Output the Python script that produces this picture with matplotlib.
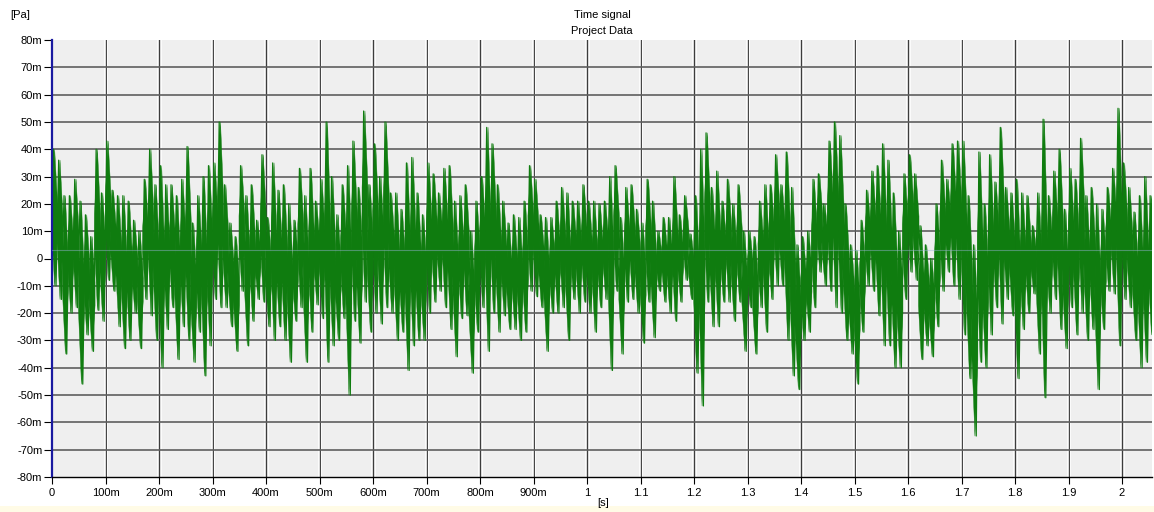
import numpy as np
import matplotlib
matplotlib.use("Agg")
import matplotlib.pyplot as plt
from matplotlib.transforms import offset_copy
from matplotlib.patches import Rectangle
from matplotlib.collections import PolyCollection

plt.rcParams["font.family"] = ["Liberation Sans Narrow", "Liberation Sans", "DejaVu Sans"]

# Pressure signal, one positive and one negative peak per 10 ms block [mPa]
BLOCK = 0.01  # s
peak_hi = [
    40, 36, 23, 23, 29, 21, 16, 8, 40, 24,
    43, 25, 23, 23, 21, 14, 10, 29, 40, 27,
    34, 27, 27, 23, 29, 41, 13, 23, 30, 34,
    35, 50, 27, 13, 8, 34, 23, 27, 14, 38,
    15, 35, 25, 27, 20, 14, 33, 23, 33, 21,
    29, 50, 30, 16, 27, 34, 43, 26, 54, 27,
    42, 30, 50, 24, 24, 18, 35, 37, 24, 16,
    35, 31, 24, 33, 34, 21, 23, 27, 10, 21,
    30, 48, 42, 27, 21, 13, 16, 15, 21, 34,
    29, 16, 15, 15, 21, 26, 24, 21, 21, 27,
    21, 21, 20, 21, 30, 34, 15, 26, 27, 18,
    13, 29, 21, 10, 15, 15, 30, 16, 23, 9,
    23, 40, 46, 26, 32, 21, 29, 20, 27, 10,
    10, 8, 21, 27, 27, 38, 27, 39, 26, 5,
    8, 10, 29, 31, 20, 43, 50, 45, 20, 5,
    3, 14, 25, 32, 34, 42, 36, 24, 10, 31,
    38, 31, 12, 5, 0, 20, 36, 29, 42, 43,
    43, 23, 5, 39, 20, 38, 28, 48, 26, 24,
    29, 24, 23, 12, 24, 51, 23, 32, 40, 18,
    33, 29, 44, 23, 26, 20, 18, 26, 33, 55,
    35, 26, 17, 23, 30, 23,
]
peak_lo = [
    -10, -15, -35, -20, -18, -46, -28, -34, -19, -23,
    -8, -12, -25, -33, -30, -20, -33, -15, -21, -30,
    -40, -26, -18, -37, -25, -30, -38, -27, -43, -32,
    -15, -18, -18, -25, -34, -12, -32, -23, -15, -16,
    -25, -30, -25, -30, -38, -23, -18, -38, -27, -17,
    -22, -38, -32, -30, -22, -50, -23, -31, -16, -27,
    -20, -24, -18, -20, -30, -27, -41, -32, -30, -30,
    -20, -16, -12, -18, -26, -36, -22, -21, -42, -27,
    -18, -34, -20, -27, -21, -26, -26, -30, -27, -12,
    -14, -18, -34, -20, -20, -18, -30, -15, -20, -16,
    -20, -27, -18, -15, -41, -12, -35, -16, -15, -20,
    -31, -16, -29, -12, -16, -20, -23, -16, -8, -15,
    -42, -54, -16, -25, -25, -16, -16, -23, -16, -34,
    -18, -35, -18, -27, -15, -10, -10, -30, -43, -48,
    -30, -27, -18, -5, -10, -12, -18, -20, -30, -35,
    -46, -27, -10, -12, -21, -32, -32, -40, -40, -15,
    -5, -8, -37, -32, -36, -25, -12, -5, -10, -15,
    -28, -44, -65, -38, -40, -28, -18, -24, -15, -21,
    -44, -26, -20, -13, -35, -51, -20, -15, -26, -33,
    -18, -28, -20, -30, -26, -48, -26, -12, -13, -32,
    -15, -18, -30, -40, -38, -28,
]

y_ticks = [80, 70, 60, 50, 40, 30, 20, 10, 0, -10, -20, -30, -40, -50, -60, -70, -80]
y_tick_labels = ["80m", "70m", "60m", "50m", "40m", "30m", "20m", "10m", "0",
                 "-10m", "-20m", "-30m", "-40m", "-50m", "-60m", "-70m", "-80m"]
x_ticks = [0.0, 0.1, 0.2, 0.3, 0.4, 0.5, 0.6, 0.7, 0.8, 0.9, 1.0,
           1.1, 1.2, 1.3, 1.4, 1.5, 1.6, 1.7, 1.8, 1.9, 2.0]
x_tick_labels = ["0", "100m", "200m", "300m", "400m", "500m", "600m", "700m", "800m", "900m",
                 "1", "1.1", "1.2", "1.3", "1.4", "1.5", "1.6", "1.7", "1.8", "1.9", "2"]

T_END = 2.056
MEAN_LEVEL = 3.2
GREEN = "#0f7c0f"

hi = np.asarray(peak_hi, dtype=float)
lo = np.asarray(peak_lo, dtype=float)
n = len(hi)
t_start = np.arange(n) * BLOCK
t_mid = t_start + 0.5 * BLOCK

# each block drawn as a spindle: thin tips at the peaks, full width around the block centre
half = 0.55 * BLOCK
span = hi - lo
centre = 0.5 * (hi + lo)
shoulder = 0.1 * span
spindles = []
for tc, h, l, c, s in zip(t_mid, hi, lo, centre, shoulder):
    spindles.append([(tc, h), (tc + half, c + s), (tc + half, c - s),
                     (tc, l), (tc - half, c - s), (tc - half, c + s)])

# trace between the peaks: positive peak early in the block, negative peak late
t = np.empty(2 * n)
p = np.empty(2 * n)
t[0::2] = t_start + 0.25 * BLOCK
t[1::2] = t_start + 0.75 * BLOCK
p[0::2] = hi
p[1::2] = lo

W, H = 1154, 512
fig = plt.figure(figsize=(W / 100, H / 100), dpi=100)
fig.patch.set_facecolor("white")
fig.add_artist(Rectangle((0, 0), 1, 6 / H, transform=fig.transFigure,
                         facecolor="#fffbe6", edgecolor="none", zorder=0))

ax = fig.add_axes([52 / W, 1 - 477 / H, 1100 / W, 437 / H])
ax.set_facecolor("#efefef")
ax.set_xlim(0, T_END)
ax.set_ylim(-80, 80)

# grid: dark line with light edges
light_l = offset_copy(ax.transData, fig=fig, x=-1.6, y=0, units="dots")
light_r = offset_copy(ax.transData, fig=fig, x=1.6, y=0, units="dots")
for xv in x_ticks[1:]:
    ax.axvline(xv, color="#3c3c3c", lw=0.9, zorder=1)
    ax.plot([xv, xv], [-80, 80], color="#fbfbfb", lw=0.8, zorder=1, transform=light_l)
    ax.plot([xv, xv], [-80, 80], color="#fbfbfb", lw=0.8, zorder=1, transform=light_r)
for yv in y_ticks[1:-1]:
    ax.axhline(yv, color="#5e5e5e", lw=1.2, zorder=1)

ax.add_collection(PolyCollection(spindles, facecolors=GREEN, edgecolors=GREEN,
                                 linewidths=0.3, zorder=2))
ax.plot(t, p, color=GREEN, lw=0.9, zorder=2)
ax.axhline(MEAN_LEVEL, color="#9db4dc", lw=0.8, alpha=0.45, zorder=3)

ax.set_yticks(y_ticks)
ax.set_yticklabels(y_tick_labels)
ax.set_xticks(x_ticks)
ax.set_xticklabels(x_tick_labels)
ax.tick_params(axis="y", direction="out", length=6, width=0.8, pad=1, labelsize=8, colors="black")
ax.tick_params(axis="x", direction="out", length=5, width=0.8, pad=3, labelsize=8, colors="black")

for side in ("top", "right"):
    ax.spines[side].set_visible(False)
ax.spines["left"].set_color("#1a1aa0")
ax.spines["left"].set_linewidth(1.6)
ax.spines["bottom"].set_color("black")
ax.spines["bottom"].set_linewidth(1.0)

fig.text(602 / W, 1 - 15 / H, "Time signal", ha="center", va="center", fontsize=8)
fig.text(602 / W, 1 - 31 / H, "Project Data", ha="center", va="center", fontsize=8)
fig.text(20 / W, 1 - 15 / H, "[Pa]", ha="center", va="center", fontsize=8)
fig.text(603 / W, 1 - 503 / H, "[s]", ha="center", va="center", fontsize=8)

fig.savefig("out.png", dpi=100)
